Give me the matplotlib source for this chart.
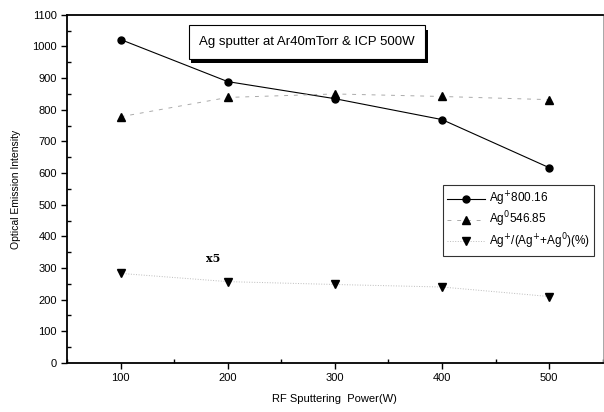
import matplotlib
matplotlib.use("Agg")
import matplotlib.pyplot as plt
import matplotlib.patheffects as pe
from matplotlib.ticker import MultipleLocator

plt.rcParams['font.family'] = ['Liberation Sans Narrow', 'Liberation Sans', 'DejaVu Sans']

# data
power = [100, 200, 300, 400, 500]
ag_ion = [1022, 889, 835, 769, 617]
ag_neutral = [778, 839, 850, 842, 832]
ag_ratio_x5 = [283, 257, 248, 240, 210]

fig = plt.figure(figsize=(6.04, 4.12), dpi=100)
ax = fig.add_axes([0.111, 0.119, 0.887, 0.845])

ax.plot(power, ag_ion, '-', color='black', lw=0.8, marker='o', ms=5,
        label='Ag$^{+}$800.16')
ax.plot(power, ag_neutral, '--', color='#aaaaaa', lw=0.7, marker='^', ms=6,
        mfc='black', mec='black', dashes=(4, 6), label='Ag$^{0}$546.85')
ax.plot(power, ag_ratio_x5, ':', color='#bbbbbb', lw=0.7, marker='v', ms=6,
        mfc='black', mec='black', label='Ag$^{+}$/(Ag$^{+}$+Ag$^{0}$)(%)')

ax.set_xlim(50, 550)
ax.set_ylim(0, 1100)
ax.xaxis.set_major_locator(MultipleLocator(100))
ax.xaxis.set_minor_locator(MultipleLocator(50))
ax.yaxis.set_major_locator(MultipleLocator(100))
ax.yaxis.set_minor_locator(MultipleLocator(50))
ax.tick_params(which='major', direction='out', length=4, width=1, labelsize=8)
ax.tick_params(which='minor', direction='in', length=3, width=1)
for s in ['left', 'bottom', 'top']:
    ax.spines[s].set_linewidth(1.3)
ax.spines['right'].set_linewidth(0.6)
ax.spines['right'].set_color('#999999')

ax.set_xlabel('RF Sputtering  Power(W)', fontsize=8, labelpad=8)
ax.set_ylabel('Optical Emission Intensity', fontsize=7.5, labelpad=8)

ax.text(180, 318, 'x5', fontsize=8, fontweight='bold', family='DejaVu Serif')

# title box with drop shadow
t = ax.text(0.448, 0.922, 'Ag sputter at Ar40mTorr & ICP 500W', transform=ax.transAxes,
            ha='center', va='center', fontsize=9.5,
            bbox=dict(boxstyle='square,pad=0.8', fc='white', ec='black', lw=0.8), zorder=5)
t.get_bbox_patch().set_path_effects([
    pe.SimplePatchShadow(offset=(2, -3), shadow_rgbFace='black', alpha=1.0),
    pe.Normal()])

leg = ax.legend(loc='upper left', bbox_to_anchor=(0.69, 0.528), fontsize=8.5,
                frameon=True, fancybox=False, edgecolor='black', handlelength=3.2,
                labelspacing=0.15, borderpad=0.4, handletextpad=0.3)
leg.get_frame().set_linewidth(0.8)

fig.savefig('out.png', dpi=100)
